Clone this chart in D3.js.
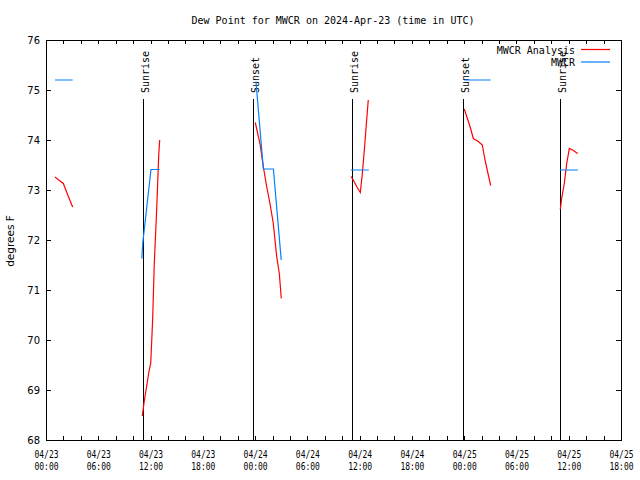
<!DOCTYPE html>
<html>
<head>
<meta charset="utf-8">
<script src="https://cdn.jsdelivr.net/npm/d3@7"></script>
<style>
  body { margin: 0; background: #fff; }
  svg { display: block; }
</style>
</head>
<body>
<svg id="chart" width="640" height="480"></svg>
<script>
// ---- data (hours since 2024-04-23 00:00 UTC; null value = gap) ----
const analysisHours = [1.03, 1.53, 1.99, 2.5, 3.06, 3.07,
  11.05, 11.3, 11.6, 11.85, 12.02, 12.24, 12.43, 12.71, 12.94, 13.05, 13.06,
  24.02, 24.56, 24.94, 25.33, 25.71, 26.09, 26.48, 26.78, 27.01, 27.02,
  35.01, 35.27, 35.66, 36.08, 36.31, 36.54, 36.73, 36.99, 37.0,
  48.01, 48.67, 49.05, 49.62, 50.08, 50.39, 51.04, 51.05,
  59.03, 59.19, 59.49, 59.77, 60.07, 60.53, 61.03];
const analysisValues = [73.26, 73.19, 73.13, 72.9, 72.66, null,
  68.48, 68.8, 69.13, 69.4, 69.53, 70.4, 71.53, 72.63, 73.7, 74.0, null,
  74.35, 73.93, 73.47, 73.07, 72.73, 72.33, 71.67, 71.33, 70.83, null,
  73.27, 73.2, 73.07, 72.95, 73.33, 73.8, 74.23, 74.8, null,
  74.62, 74.27, 74.03, 73.97, 73.9, 73.6, 73.09, null,
  72.61, 72.83, 73.13, 73.53, 73.83, 73.79, 73.73];

const obsHours = [1.03, 3.06, 3.07,
  11.0, 11.1, 12.05, 13.05, 13.06,
  24.1, 24.95, 26.1, 27.0, 27.01,
  35.0, 37.05, 37.06,
  48.0, 51.05, 51.06,
  59.0, 61.05];
const obsValues = [75.2, 75.2, null,
  71.63, 71.93, 73.41, 73.41, null,
  75.17, 73.42, 73.42, 71.6, null,
  73.4, 73.4, null,
  75.2, 75.2, null,
  73.4, 73.4];

const sunLabels = ["Sunrise", "Sunset", "Sunrise", "Sunset", "Sunrise"];
const sunHours = [11.17, 23.73, 35.12, 47.83, 59.03];
const sunLineTop = 74.82;

const yTicks = [68, 69, 70, 71, 72, 73, 74, 75, 76];
const seriesNames = ["MWCR Analysis", "MWCR"];
const seriesColors = ["#ff0000", "#0080ff"];

const titleText = "Dew Point for MWCR on 2024-Apr-23 (time in UTC)";
const yLabel = "degrees F";

// ---- layout ----
const M = { left: 46, right: 621, top: 40, bottom: 440 };
const t0 = Date.UTC(2024, 3, 23, 0, 0);
const toDate = h => new Date(t0 + h * 3600e3);

const x = d3.scaleUtc().domain([toDate(0), toDate(66)]).range([M.left, M.right]);
const y = d3.scaleLinear().domain([68, 76]).range([M.bottom, M.top]);

const svg = d3.select("#chart");
const MONO = "'DejaVu Sans Mono', monospace";
const SANS = "'DejaVu Sans', sans-serif";

// ticks every 2h
const tickDates = d3.range(0, 67, 2).map(toDate);
const fmtDate = d3.utcFormat("%m/%d");
const fmtTime = d3.utcFormat("%H:%M");

// bottom axis
const gx = svg.append("g").attr("transform", `translate(0,${M.bottom})`)
  .call(d3.axisBottom(x).tickValues(tickDates).tickSizeInner(-4).tickSizeOuter(0).tickFormat(""));
gx.selectAll(".tick").each(function(d) {
  const h = (d - t0) / 3600e3;
  if (Math.round(h) % 6 !== 0) return;
  const t = d3.select(this).append("text")
    .attr("fill", "#000").attr("text-anchor", "middle")
    .style("font-family", MONO).style("font-size", "10px");
  t.append("tspan").attr("x", 0).attr("y", 18).attr("textLength", 24).attr("lengthAdjust", "spacingAndGlyphs").text(fmtDate(d));
  t.append("tspan").attr("x", 0).attr("y", 30).attr("textLength", 24).attr("lengthAdjust", "spacingAndGlyphs").text(fmtTime(d));
});

// top axis
svg.append("g").attr("transform", `translate(0,${M.top})`)
  .call(d3.axisTop(x).tickValues(tickDates).tickSizeInner(-4).tickSizeOuter(0).tickFormat(""));

// left axis
const gy = svg.append("g").attr("transform", `translate(${M.left},0)`)
  .call(d3.axisLeft(y).tickValues(yTicks).tickSizeInner(-5).tickSizeOuter(0).tickPadding(6).tickFormat(d3.format("d")));
gy.selectAll("text").style("font-family", SANS).style("font-size", "10px");

// right axis
svg.append("g").attr("transform", `translate(${M.right},0)`)
  .call(d3.axisRight(y).tickValues(yTicks).tickSizeInner(-5).tickSizeOuter(0).tickFormat(""));

svg.selectAll(".domain, .tick line").attr("stroke", "#000").attr("shape-rendering", "crispEdges");

// sunrise / sunset lines
const sun = svg.append("g");
sunHours.forEach((h, i) => {
  const sx = Math.round(x(toDate(h))) + 0.5;
  sun.append("line")
    .attr("x1", sx).attr("x2", sx)
    .attr("y1", y(sunLineTop)).attr("y2", y(68))
    .attr("stroke", "#000").attr("stroke-width", 1);
  sun.append("text")
    .attr("transform", `translate(${sx + 5},${y(sunLineTop) - 6}) rotate(-90)`)
    .attr("text-anchor", "start")
    .style("font-family", MONO).style("font-size", "10px")
    .text(sunLabels[i]);
});

// series lines
const line = d3.line()
  .defined(d => d[1] !== null)
  .x(d => x(toDate(d[0])))
  .y(d => y(d[1]));

const redData = analysisHours.map((h, i) => [h, analysisValues[i]]);
const blueData = obsHours.map((h, i) => [h, obsValues[i]]);

svg.append("path").datum(redData)
  .attr("d", line).attr("fill", "none")
  .attr("stroke", seriesColors[0]).attr("stroke-width", 1.2);
svg.append("path").datum(blueData)
  .attr("d", line).attr("fill", "none")
  .attr("stroke", seriesColors[1]).attr("stroke-width", 1.2);

// legend
const lg = svg.append("g");
seriesNames.forEach((name, i) => {
  const ly = 49.5 + i * 12.5;
  lg.append("text")
    .attr("x", 575).attr("y", ly + 4)
    .attr("text-anchor", "end")
    .style("font-family", MONO).style("font-size", "10px")
    .text(name);
  lg.append("line")
    .attr("x1", 581).attr("x2", 610)
    .attr("y1", ly).attr("y2", ly)
    .attr("stroke", seriesColors[i]).attr("stroke-width", 1.2);
});

// title
svg.append("text")
  .attr("x", 333).attr("y", 24)
  .attr("text-anchor", "middle")
  .style("font-family", MONO).style("font-size", "10px")
  .text(titleText);

// y label
svg.append("text")
  .attr("transform", "translate(14,241) rotate(-90)")
  .attr("text-anchor", "middle")
  .style("font-family", SANS).style("font-size", "10.5px")
  .text(yLabel);
</script>
</body>
</html>
